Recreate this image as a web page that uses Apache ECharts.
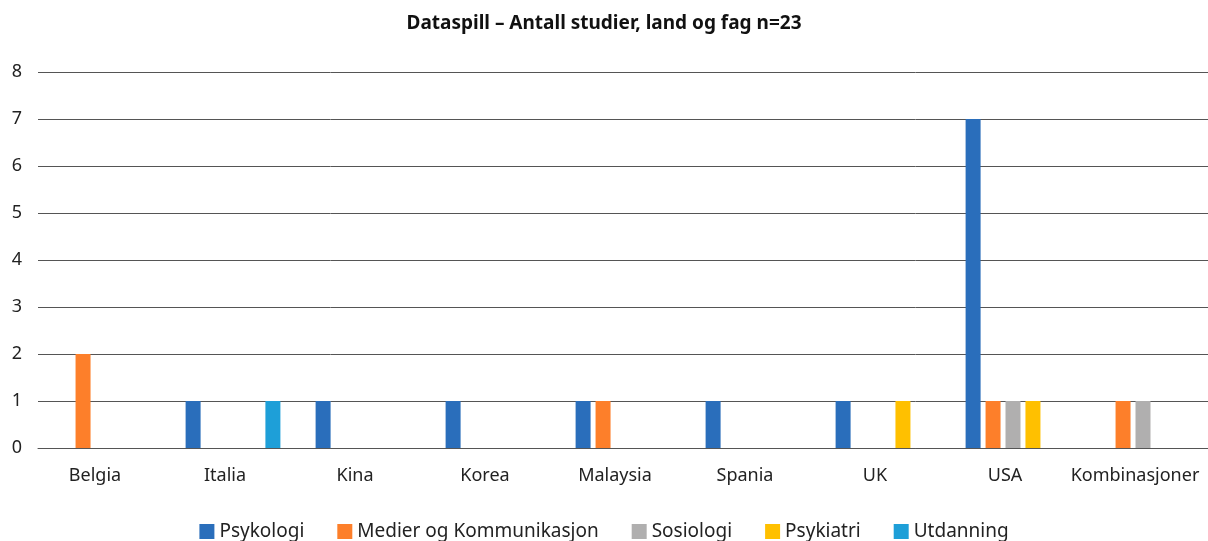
<!DOCTYPE html>
<html>
<head>
<meta charset="utf-8">
<script src="https://cdn.jsdelivr.net/npm/echarts@6/dist/echarts.min.js"></script>
<style>
  html, body { margin: 0; padding: 0; background: #fff; }
  #chart { width: 1208px; height: 541px; }
</style>
</head>
<body>
<div id="chart"></div>
<script>
const countries = ['Belgia', 'Italia', 'Kina', 'Korea', 'Malaysia', 'Spania', 'UK', 'USA', 'Kombinasjoner']

const psykologi = [0, 1, 1, 1, 1, 1, 1, 7, 0]
const medier = [2, 0, 0, 0, 1, 0, 0, 1, 1]
const sosiologi = [0, 0, 0, 0, 0, 0, 0, 1, 1]
const psykiatri = [0, 0, 0, 0, 0, 0, 1, 1, 0]
const utdanning = [0, 1, 0, 0, 0, 0, 0, 0, 0]

const yTicks = [0, 1, 2, 3, 4, 5, 6, 7, 8]

const font = 'Noto Sans'

const chart = echarts.init(document.getElementById('chart'))

const bar = (name, data, color) => ({
  name,
  type: 'bar',
  data: data.map(v => (v === 0 ? '-' : v)),
  barWidth: 15,
  barGap: '33%',
  itemStyle: { color },
  emphasis: { disabled: true }
})

const option = {
  animation: false,
  title: {
    text: 'Dataspill – Antall studier, land og fag n=23',
    left: 'center',
    top: 9,
    textStyle: { fontFamily: font, fontSize: 19, fontWeight: 'bold', color: '#111' }
  },
  legend: {
    bottom: -5,
    left: 'center',
    icon: 'rect',
    itemWidth: 15,
    itemHeight: 15,
    itemGap: 33,
    textStyle: { fontFamily: font, fontSize: 19, color: '#222' },
    data: ['Psykologi', 'Medier og Kommunikasjon', 'Sosiologi', 'Psykiatri', 'Utdanning']
  },
  grid: { left: 38, right: 0, top: 72, bottom: 93, containLabel: false },
  xAxis: {
    type: 'category',
    data: countries,
    axisLine: { lineStyle: { color: '#555', width: 1 } },
    axisTick: { show: false },
    axisLabel: { interval: 0, fontFamily: font, fontSize: 18, color: '#222', margin: 19, padding: [0, 16, 0, 0] }
  },
  yAxis: {
    type: 'value',
    min: yTicks[0],
    max: yTicks[yTicks.length - 1],
    interval: 1,
    axisLine: { show: false },
    axisTick: { show: false },
    axisLabel: { fontFamily: font, fontSize: 18, color: '#222', margin: 16 },
    splitLine: { lineStyle: { color: '#555', width: 1 } }
  },
  series: [
    bar('Psykologi', psykologi, '#2a6ebb'),
    bar('Medier og Kommunikasjon', medier, '#fd7f2a'),
    bar('Sosiologi', sosiologi, '#b0afaf'),
    bar('Psykiatri', psykiatri, '#ffc000'),
    bar('Utdanning', utdanning, '#1e9fd8')
  ]
}

chart.setOption(option)
</script>
</body>
</html>
